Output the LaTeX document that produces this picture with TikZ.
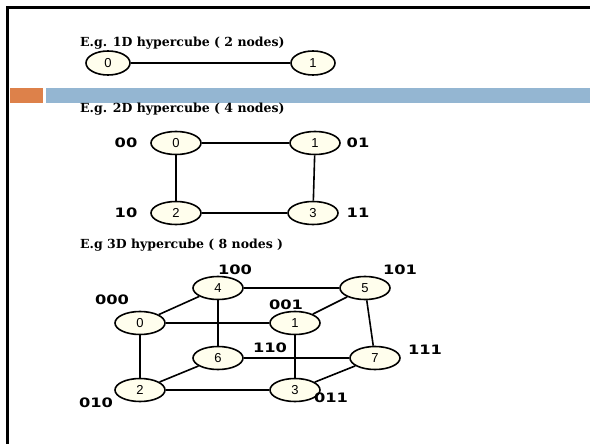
\documentclass[tikz,border=0pt]{standalone}
\usepackage{fontspec}
\usetikzlibrary{shapes.geometric}
\setmainfont{DejaVu Serif}
\newfontfamily\labelfont{Liberation Sans}
\newfontfamily\addrfont[FakeStretch=1.25]{DejaVu Sans}
\definecolor{barorange}{RGB}{221,129,74}
\definecolor{barblue}{RGB}{148,182,210}
\begin{document}
\begin{tikzpicture}[x=1pt,y=-1pt,
  vertex/.style={ellipse,draw=black,line width=1.6pt,fill=yellow!7,
    minimum width=44pt,minimum height=24pt,inner sep=0pt,
    font=\labelfont\fontsize{13}{13}\selectfont},
  bigvertex/.style={vertex,minimum width=50pt,minimum height=23pt},
  edge/.style={line width=1.6pt},
  heavy/.style={line width=2.8pt},
  caption/.style={anchor=west,font=\bfseries\fontsize{12.5}{12.5}\selectfont,inner sep=0pt},
  addr/.style={font=\addrfont\bfseries\fontsize{13}{13}\selectfont,inner sep=0pt}]
\useasboundingbox (0,0) rectangle (590,444);
\fill[white] (0,0) rectangle (590,444);
% slide frame and title bar
\draw[line width=2.5pt] (7.5,444) -- (7.5,7.5) -- (590,7.5);
\fill[barorange] (10,88) rectangle (43,103);
\fill[barblue] (46,88) rectangle (590,103);

% 1D hypercube
\node[caption] (t1) at (80,43) {E.g. 1D hypercube ( 2 nodes)};
\node[vertex] (a0) at (108,63) {0};
\node[vertex] (a1) at (313,63) {1};
\draw[edge] (a0) -- (a1);

% 2D hypercube
\node[caption] (t2) at (80,109) {E.g. 2D hypercube ( 4 nodes)};
\node[bigvertex] (b0) at (176,143) {0};
\node[bigvertex] (b1) at (315,143) {1};
\node[bigvertex] (b2) at (176,213) {2};
\node[bigvertex] (b3) at (313,213) {3};
\draw[edge] (b0) -- (b1);
\draw[edge] (b0) -- (b2);
\draw[edge] (b1) -- (b3);
\draw[edge] (b2) -- (b3);
\node[addr] (l00) at (126,143) {00};
\node[addr] (l01) at (358,143) {01};
\node[addr] (l10) at (126,213) {10};
\node[addr] (l11) at (358,213) {11};

% 3D hypercube
\node[caption] (t3) at (80,245) {E.g 3D hypercube ( 8 nodes )};
\node[bigvertex] (c4) at (218,288) {4};
\node[bigvertex] (c5) at (365,288) {5};
\node[bigvertex] (c0) at (140,323) {0};
\node[bigvertex] (c1) at (295,323) {1};
\node[bigvertex] (c6) at (218,358) {6};
\node[bigvertex] (c7) at (375,358) {7};
\node[bigvertex] (c2) at (140,390) {2};
\node[bigvertex] (c3) at (295,390) {3};
\draw[edge] (c0) -- (c1);
\draw[edge] (c0) -- (c4);
\draw[edge] (c4) -- (c5);
\draw[edge] (c4) -- (c6);
\draw[edge] (c5) -- (c1);
\draw[edge] (c5) -- (c7);
\draw[edge] (c6) -- (c7);
\draw[edge] (c6) -- (c2);
\draw[edge] (c2) -- (c3);
\draw[edge] (c3) -- (c7);
\draw[heavy] (c0) -- (c2);
\draw[heavy] (c1) -- (c3);
\node[addr] (l100) at (235,270) {100};
\node[addr] (l101) at (400,270) {101};
\node[addr] (l000) at (112,300) {000};
\node[addr] (l001) at (286,305) {001};
\node[addr] (l110) at (270,348) {110};
\node[addr] (l111) at (425,350) {111};
\node[addr] (l010) at (96,403) {010};
\node[addr] (l011) at (331,398) {011};
\end{tikzpicture}
\end{document}
